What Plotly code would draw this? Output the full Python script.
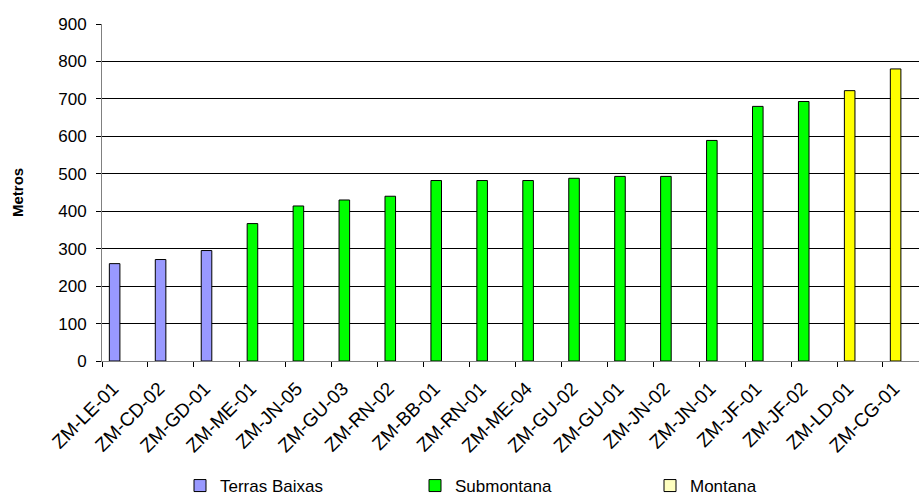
import plotly.graph_objects as go

# Sampling points, ordered by altitude
sites = ["ZM-LE-01", "ZM-CD-02", "ZM-GD-01", "ZM-ME-01", "ZM-JN-05", "ZM-GU-03",
         "ZM-RN-02", "ZM-BB-01", "ZM-RN-01", "ZM-ME-04", "ZM-GU-02", "ZM-GU-01",
         "ZM-JN-02", "ZM-JN-01", "ZM-JF-01", "ZM-JF-02", "ZM-LD-01", "ZM-CG-01"]
altitude = [260, 271, 295, 367, 414, 430, 440, 482, 482, 482, 488, 493,
            493, 589, 680, 693, 722, 780]
zone = ["Terras Baixas"] * 3 + ["Submontana"] * 13 + ["Montana"] * 2

zone_names = ["Terras Baixas", "Submontana", "Montana"]
bar_colors = {"Terras Baixas": "#9999FF", "Submontana": "#00FF00", "Montana": "#FFFF00"}
legend_colors = {"Terras Baixas": "#9999FF", "Submontana": "#00FF00", "Montana": "#FFFFC0"}

FONT = "Liberation Sans, Arial, sans-serif"

fig = go.Figure()

for z in zone_names:
    xs = [s for s, zz in zip(sites, zone) if zz == z]
    ys = [a for a, zz in zip(altitude, zone) if zz == z]
    fig.add_trace(go.Bar(
        x=xs, y=ys, name=z, showlegend=False,
        marker=dict(color=bar_colors[z], line=dict(color="#000000", width=1)),
        width=0.23, offset=-0.34,
    ))

# legend swatches
for z in zone_names:
    fig.add_trace(go.Bar(
        x=[sites[0]], y=[None], name=z, showlegend=True,
        marker=dict(color=legend_colors[z], line=dict(color="#000000", width=1)),
    ))

fig.update_layout(
    width=919, height=498,
    margin=dict(l=102, r=0, t=24, b=137),
    paper_bgcolor="white", plot_bgcolor="white",
    barmode="overlay",
    font=dict(family=FONT, size=15, color="#000000"),
    xaxis=dict(
        type="category", categoryorder="array", categoryarray=sites,
        range=[-0.5, -0.5 + 817.0 / 45.94],
        tickangle=-45, tickfont=dict(size=19),
        ticks="outside", tickson="boundaries", ticklen=5, tickcolor="#000000",
        ticklabelshift=-12, ticklabelstandoff=8,
        showline=True, linecolor="#808080", linewidth=1,
        showgrid=False, fixedrange=True,
    ),
    yaxis=dict(
        range=[0, 900], dtick=100, tickfont=dict(size=17),
        ticks="outside", ticklen=5, tickcolor="#000000",
        ticklabelstandoff=6,
        showline=True, linecolor="#808080", linewidth=1,
        showgrid=True, gridcolor="#000000", gridwidth=1,
        zeroline=False,
    ),
    legend=dict(
        orientation="h", x=180 / 919, xref="container", y=12 / 498, yref="container",
        yanchor="middle", xanchor="left",
        entrywidth=190, entrywidthmode="pixels",
        font=dict(size=17), itemwidth=30,
        traceorder="normal",
    ),
    annotations=[dict(
        text="<b>Metros</b>", textangle=-90, showarrow=False,
        xref="paper", yref="paper", x=-(102 - 17.5) / 817, y=0.5,
        xanchor="center", yanchor="middle", font=dict(size=15),
    )],
)

fig.write_html("out.html")
